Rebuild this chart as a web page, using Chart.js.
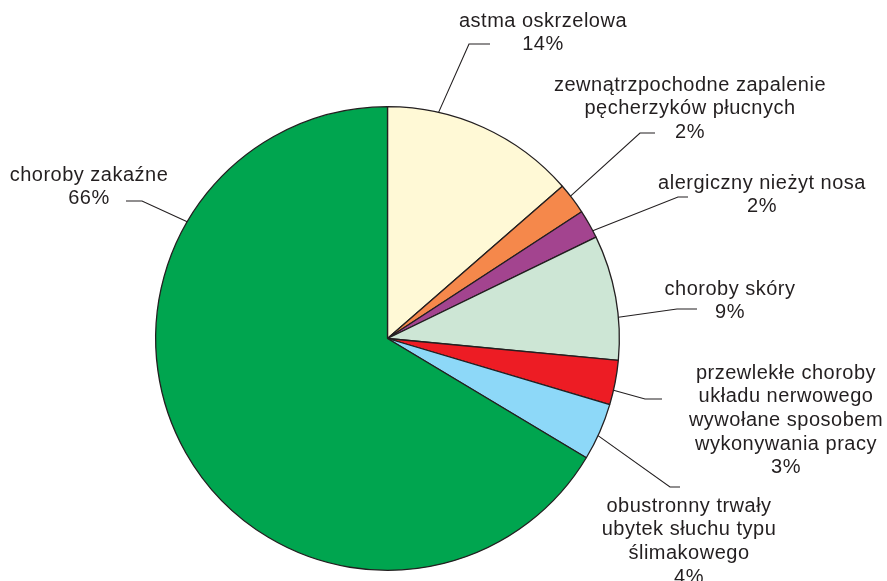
<!DOCTYPE html>
<html>
<head>
<meta charset="utf-8">
<script src="https://cdn.jsdelivr.net/npm/chart.js@4/dist/chart.umd.min.js"></script>
<style>
  html, body { margin: 0; padding: 0; background: #ffffff; }
  #wrap { width: 887px; height: 581px; }
</style>
</head>
<body>
<div id="wrap"><canvas id="c" width="887" height="581"></canvas></div>
<script>
// ---- data ----
const categories = [
  "astma oskrzelowa",
  "zewnątrzpochodne zapalenie pęcherzyków płucnych",
  "alergiczny nieżyt nosa",
  "choroby skóry",
  "przewlekłe choroby układu nerwowego wywołane sposobem wykonywania pracy",
  "obustronny trwały ubytek słuchu typu ślimakowego",
  "choroby zakaźne"
];
const values = [13.6, 2.2, 2.0, 8.7, 3.1, 4.0, 66.4];
const labelLines = [
  ["astma oskrzelowa"],
  ["zewnątrzpochodne zapalenie", "pęcherzyków płucnych"],
  ["alergiczny nieżyt nosa"],
  ["choroby skóry"],
  ["przewlekłe choroby", "układu nerwowego", "wywołane sposobem", "wykonywania pracy"],
  ["obustronny trwały", "ubytek słuchu typu", "ślimakowego"],
  ["choroby zakaźne"]
];
const colors = ["#FFF9D6", "#F5884B", "#A3448F", "#CDE6D5", "#ED1C24", "#8DD8F8", "#00A54F"];

// ---- label layout (positions only) ----
const labelLayout = [
  { anchor: 0.26, tx: 543, ty: 21,  elbow: [469, 44],  end: [490, 44] },
  { anchor: 0.40, tx: 690, ty: 85,  elbow: [640, 133], end: [655, 133] },
  { anchor: 0.75, tx: 762, ty: 183, elbow: [678, 197], end: [688, 197] },
  { anchor: 0.66, tx: 730, ty: 289, elbow: [677, 309], end: [697, 309] },
  { anchor: 0.67, tx: 786, ty: 373, elbow: [645, 399], end: [662, 399] },
  { anchor: 0.57, tx: 689, ty: 506, elbow: [670, 487], end: [680, 487] },
  { anchor: 0.75, tx: 89,  ty: 175, elbow: [142, 201], end: [126, 201] }
];
const lineHeight = 23.7;
const textColor = "#231F20";

const outerLabels = {
  id: "outerLabels",
  afterDraw(chart) {
    const ctx = chart.ctx;
    const meta = chart.getDatasetMeta(0);
    const total = values.reduce((a, b) => a + b, 0);
    ctx.save();
    ctx.strokeStyle = textColor;
    ctx.lineWidth = 1.1;
    ctx.fillStyle = textColor;
    ctx.font = "20px 'Liberation Sans', Arial, sans-serif";
    if ('letterSpacing' in ctx) ctx.letterSpacing = "0.5px";
    ctx.textAlign = "center";
    ctx.textBaseline = "middle";
    meta.data.forEach((arc, i) => {
      const L = labelLayout[i];
      const p = arc.getProps(["x", "y", "startAngle", "endAngle", "outerRadius"], true);
      const a = p.startAngle + (p.endAngle - p.startAngle) * L.anchor;
      const sx = p.x + Math.cos(a) * p.outerRadius;
      const sy = p.y + Math.sin(a) * p.outerRadius;
      ctx.beginPath();
      ctx.moveTo(sx, sy);
      ctx.lineTo(L.elbow[0], L.elbow[1]);
      ctx.lineTo(L.end[0], L.end[1]);
      ctx.stroke();
      const lines = labelLines[i].concat([Math.round(values[i] / total * 100) + "%"]);
      lines.forEach((t, k) => {
        ctx.fillText(t, L.tx, L.ty + k * lineHeight);
      });
    });
    ctx.restore();
  }
};

new Chart(document.getElementById("c"), {
  type: "pie",
  data: {
    labels: categories,
    datasets: [{
      data: values,
      backgroundColor: colors,
      borderColor: "#231F20",
      borderWidth: 1.3
    }]
  },
  options: {
    responsive: false,
    animation: false,
    events: [],
    layout: { padding: { left: 155, right: 267, top: 106, bottom: 10 } },
    plugins: {
      legend: { display: false },
      tooltip: { enabled: false }
    }
  },
  plugins: [outerLabels]
});
</script>
</body>
</html>
